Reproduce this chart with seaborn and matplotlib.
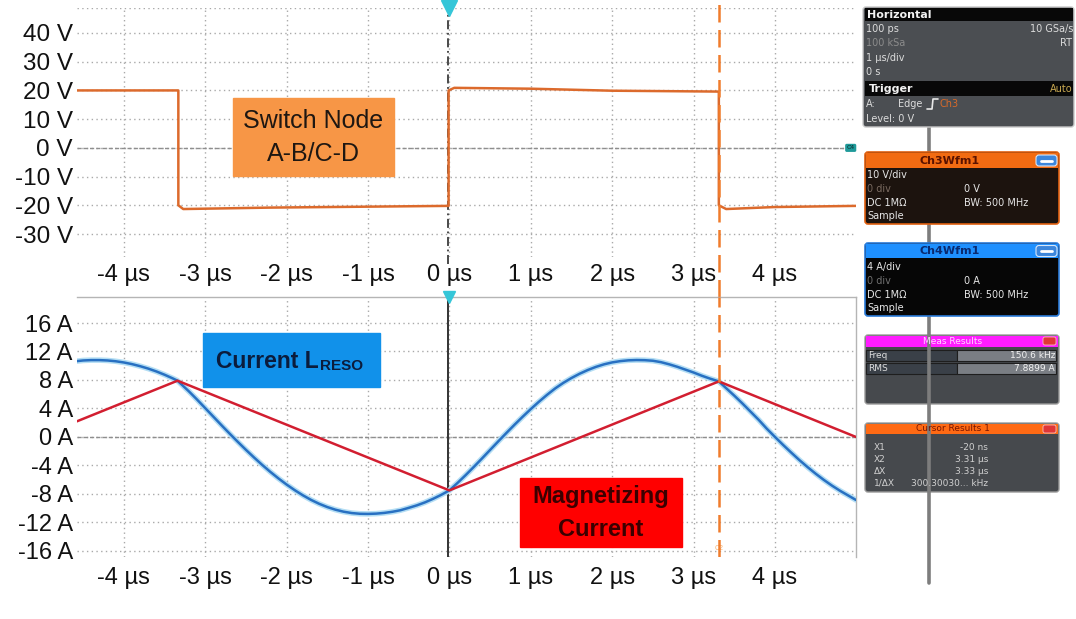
import numpy as np
import pandas as pd
import matplotlib.pyplot as plt
import seaborn as sns
from matplotlib.patches import Rectangle, FancyBboxPatch

# ---- values ----
# switch node voltage (Ch3), time in us, volts
sw_t = [-4.575, -3.33, -3.33, -3.27, -2.2, -0.01, -0.01, 0.06, 1.0, 2.0, 3.31, 3.31, 3.40, 4.0, 4.995]
sw_v = [20.0, 20.0, -20.0, -21.3, -20.8, -20.2, 20.0, 20.9, 20.6, 19.9, 19.6, -20.0, -21.3, -20.6, -20.2]

# resonant inductor current (Ch4), amps
ilr_t = [-4.575, -4.5, -4.4, -4.3, -4.2, -4.1, -4.0, -3.9, -3.8, -3.7, -3.6, -3.5, -3.4, -3.34,
         -3.2, -3.1, -3.0, -2.9, -2.8, -2.7, -2.6, -2.5, -2.4, -2.3, -2.2, -2.1, -2.0,
         -1.9, -1.8, -1.7, -1.6, -1.5, -1.4, -1.3, -1.2, -1.1, -1.0,
         -0.9, -0.8, -0.7, -0.6, -0.5, -0.4, -0.3, -0.2, -0.1, 0.0,
         0.1, 0.2, 0.3, 0.4, 0.5, 0.6, 0.7, 0.8, 0.9, 1.0,
         1.1, 1.2, 1.3, 1.4, 1.5, 1.6, 1.7, 1.8, 1.9, 2.0,
         2.1, 2.2, 2.3, 2.4, 2.5, 2.6, 2.7, 2.8, 2.9, 3.0, 3.1, 3.2, 3.31,
         3.4, 3.5, 3.6, 3.7, 3.8, 3.9, 4.0, 4.1, 4.2, 4.3, 4.4, 4.5, 4.6, 4.7, 4.8, 4.9, 4.995]
ilr_i = [10.65, 10.74, 10.79, 10.79, 10.74, 10.63, 10.46, 10.23, 9.94, 9.6, 9.2, 8.74, 8.23, 7.9,
         6.4, 5.25, 4.05, 2.85, 1.65, 0.47, -0.68, -1.8, -2.88, -3.92, -4.9, -5.82, -6.68,
         -7.47, -8.19, -8.83, -9.38, -9.84, -10.21, -10.49, -10.68, -10.78, -10.8,
         -10.76, -10.66, -10.5, -10.28, -9.95, -9.6, -9.18, -8.68, -8.12, -7.5,
         -6.45, -5.35, -4.2, -3.02, -1.82, -0.62, 0.56, 1.72, 2.84, 3.92,
         4.95, 5.92, 6.82, 7.6, 8.28, 8.88, 9.4, 9.84, 10.2, 10.47,
         10.65, 10.76, 10.8, 10.78, 10.7, 10.5, 10.2, 9.85, 9.45, 9.05, 8.6, 8.2, 7.8,
         6.85, 5.8, 4.7, 3.55, 2.4, 1.15, 0.0, -1.12, -2.2, -3.25, -4.23, -5.16, -6.03, -6.83, -7.56, -8.22, -8.85]

# magnetizing current (triangle)
im_t = [-4.575, -3.34, 0.0, 3.31, 4.995]
im_i = [2.2, 7.9, -7.5, 7.8, 0.0]

cursor_x1 = -0.02
cursor_x2 = 3.31

time_ticks = [-4, -3, -2, -1, 0, 1, 2, 3, 4]
time_labels = ['-4 µs', '-3 µs', '-2 µs', '-1 µs', '0 µs', '1 µs', '2 µs', '3 µs', '4 µs']
volt_ticks = [40, 30, 20, 10, 0, -10, -20, -30]
volt_labels = ['40 V', '30 V', '20 V', '10 V', '0 V', '-10 V', '-20 V', '-30 V']
amp_ticks = [16, 12, 8, 4, 0, -4, -8, -12, -16]
amp_labels = ['16 A', '12 A', '8 A', '4 A', '0 A', '-4 A', '-8 A', '-12 A', '-16 A']

sns.set_style("white")
plt.rcParams['font.family'] = ['Liberation Sans', 'DejaVu Sans']
REG = ['Liberation Sans', 'DejaVu Sans']
PANEL = ['DejaVu Sans']

W, H = 1076, 619
fig = plt.figure(figsize=(W / 100, H / 100), dpi=100)


def frac(x0, y0, x1, y1):
    return [x0 / W, 1 - y1 / H, (x1 - x0) / W, (y1 - y0) / H]


ax_v = fig.add_axes(frac(77, 8, 856, 257))
ax_i = fig.add_axes(frac(77, 297, 856, 557))

GRID = dict(color='#a9a9a9', linestyle=(0, (1, 2.4)), linewidth=1.0)
for ax in (ax_v, ax_i):
    ax.set_xlim(-4.575, 4.995)
    ax.set_xticks(time_ticks)
    ax.set_xticklabels(time_labels)
    ax.grid(True, **GRID)
    ax.tick_params(length=0, labelcolor='#111111')
    for s in ax.spines.values():
        s.set_visible(False)

ax_v.set_ylim(-38, 48.7)
ax_v.set_yticks(volt_ticks)
ax_v.set_yticklabels(volt_labels)
ax_v.axhline(48.7, zorder=0, **GRID)
ax_v.tick_params(axis='y', pad=3, labelsize=17.5)
ax_v.tick_params(axis='x', pad=5, labelsize=17)

ax_i.set_ylim(-16.85, 19.65)
ax_i.set_yticks(amp_ticks)
ax_i.set_yticklabels(amp_labels)
ax_i.tick_params(axis='y', pad=3, labelsize=17)
ax_i.tick_params(axis='x', pad=7, labelsize=17)
for sp in ('top', 'right'):
    ax_i.spines[sp].set_visible(True)
    ax_i.spines[sp].set_color('#b5b5b5')
    ax_i.spines[sp].set_linewidth(1.0)

# centre (0 V / 0 A) lines
for ax in (ax_v, ax_i):
    ax.axhline(0, color='#8e8e8e', linestyle=(0, (3, 1.5)), linewidth=1.0, zorder=1)

# traces
sw = pd.DataFrame({'t': sw_t, 'v': sw_v})
sns.lineplot(data=sw, x='t', y='v', ax=ax_v, color='#dc6a2c', linewidth=1.8,
             estimator=None, sort=False, zorder=3)

ilr = pd.DataFrame({'t': ilr_t, 'i': ilr_i})
sns.lineplot(data=ilr, x='t', y='i', ax=ax_i, color='#b4def4', linewidth=4.0,
             estimator=None, sort=False, zorder=3)
sns.lineplot(data=ilr, x='t', y='i', ax=ax_i, color='#2870c2', linewidth=1.8,
             estimator=None, sort=False, zorder=4)

im = pd.DataFrame({'t': im_t, 'i': im_i})
sns.lineplot(data=im, x='t', y='i', ax=ax_i, color='#d21e30', linewidth=1.8,
             estimator=None, sort=False, zorder=5)

for ax in (ax_v, ax_i):
    ax.set_xlabel('')
    ax.set_ylabel('')

# cursor / trigger lines
ax_v.axvline(cursor_x1, ymin=-0.03, ymax=1.0, color='#3c3c3c',
             linestyle=(0, (5, 2, 1, 2)), linewidth=1.3, zorder=2, clip_on=False)
ax_i.axvline(cursor_x1, color='#333333', linewidth=1.4, zorder=2)
ax_v.axvline(cursor_x2, ymin=-0.16, ymax=1.032, color='#f07c2c',
             linestyle=(0, (7, 3)), linewidth=1.8, zorder=6, clip_on=False)
ax_i.axvline(cursor_x2, color='#f07c2c', linestyle=(0, (7, 3)), linewidth=1.8, zorder=6)
ax_i.text(cursor_x2, -15.6, 'C2', color='#f5b070', fontsize=5, ha='center', va='center')

# trigger position markers
ax_v.plot([0], [48.7], marker='v', markersize=11, color='#35c6d8', clip_on=False, zorder=7)
ax_i.plot([0], [19.65], marker='v', markersize=9, color='#35c6d8', clip_on=False, zorder=7)
ax_v.text(4.93, 0, 'C4', fontsize=4.5, color='#0c2a2a', ha='center', va='center',
          bbox=dict(boxstyle='round,pad=0.25', fc='#1f9a9a', ec='none'), zorder=8)

# ---- overlay in pixel coordinates for the labels and the side panel ----
ov = fig.add_axes([0, 0, 1, 1], zorder=10)
ov.set_xlim(0, W)
ov.set_ylim(H, 0)
ov.axis('off')
ov.patch.set_visible(False)

ov.add_patch(Rectangle((233, 98), 161, 78, color='#f79646', zorder=1))
ov.text(313, 121, 'Switch Node', fontsize=18, color='#1e1712', ha='center', va='center', family=REG)
ov.text(313, 154, 'A-B/C-D', fontsize=18, color='#1e1712', ha='center', va='center', family=REG)

ov.add_patch(Rectangle((203, 333), 177, 54, color='#1191ea', zorder=1))
cur_txt = ov.text(216, 368, 'Current L', fontsize=16.5, color='#0b1c3c', ha='left',
                  va='baseline', family=REG, weight='bold')

ov.add_patch(Rectangle((520, 478), 162, 69, color='#ff0000', zorder=1))
ov.text(601, 497, 'Magnetizing', fontsize=17, color='#3b0000', ha='center', va='center',
        family=REG, weight='bold')
ov.text(601, 530, 'Current', fontsize=17, color='#3b0000', ha='center', va='center',
        family=REG, weight='bold')


def box(x0, y0, x1, y1, body, edge, z=3, lw=1.0):
    ov.add_patch(FancyBboxPatch((x0, y0), x1 - x0, y1 - y0, boxstyle='round,pad=0,rounding_size=3',
                                fc=body, ec=edge, lw=lw, zorder=z))


def band(x0, y0, x1, y1, color, z=3.1):
    ov.add_patch(Rectangle((x0, y0), x1 - x0, y1 - y0, color=color, zorder=z, lw=0))


def txt(x, y, s, color='#dcdcdc', size=7, ha='left', weight='normal', z=4):
    ov.text(x, y, s, color=color, fontsize=size, ha=ha, va='center', family=PANEL,
            weight=weight, zorder=z)


def button(y):
    ov.add_patch(FancyBboxPatch((1036, y), 21, 11, boxstyle='round,pad=0,rounding_size=3',
                                fc='#3c86dc', ec='#d8e6f8', lw=0.8, zorder=4))
    ov.plot([1041, 1052], [y + 5.5, y + 5.5], color='white', lw=2, zorder=5)


def icon(y):
    ov.add_patch(FancyBboxPatch((1043, y), 13, 8, boxstyle='round,pad=0,rounding_size=2',
                                fc='#e03636', ec='#f4c0c0', lw=0.6, zorder=4))


# connector line behind the channel boxes
ov.plot([929, 929], [127, 583], color='#7d7d7d', lw=2.6, zorder=2)

# Horizontal / Trigger
box(863, 7, 1074, 127, '#4b4e52', '#c8c8c8')
band(865, 8, 1073, 21, '#080808')
txt(867, 14.5, 'Horizontal', color='#f2f2f2', size=8, weight='bold')
txt(866, 29, '100 ps')
txt(1073, 29, '10 GSa/s', ha='right')
txt(866, 43, '100 kSa', color='#8c8c8c')
txt(1072, 43, 'RT', ha='right')
txt(866, 58, '1 µs/div')
txt(866, 72, '0 s')
band(865, 81, 1073, 96, '#080808')
txt(869, 88.5, 'Trigger', color='#f2f2f2', size=8, weight='bold')
txt(1073, 88.5, 'Auto', color='#c8a850', ha='right')
txt(866, 104, 'A:')
txt(898, 104, 'Edge')
ov.plot([927, 932, 933, 938], [109, 109, 99, 99], color='#e8e8e8', lw=1.2, zorder=4)
txt(940, 104, 'Ch3', color='#d86a2a')
txt(866, 119, 'Level: 0 V')

# Ch3 settings
box(865, 152, 1059, 224, '#1c130e', '#e06010', lw=1.2)
band(866, 153, 1058, 168, '#f26b12')
txt(950, 160.5, 'Ch3Wfm1', color='#5a1200', size=8, ha='center', weight='bold')
button(155)
txt(867, 175, '10 V/div', color='#e6e6e6')
txt(867, 189, '0 div', color='#7a6a60')
txt(964, 189, '0 V', color='#e6e6e6')
txt(867, 203, 'DC 1MΩ', color='#e6e6e6')
txt(964, 203, 'BW: 500 MHz', color='#e6e6e6')
txt(867, 216, 'Sample', color='#e6e6e6')

# Ch4 settings
box(865, 243, 1059, 316, '#060606', '#2a7ad8', lw=1.2)
band(866, 244, 1058, 258, '#1e90ff')
txt(950, 251, 'Ch4Wfm1', color='#0a2a70', size=8, ha='center', weight='bold')
button(245.5)
txt(867, 267, '4 A/div', color='#e6e6e6')
txt(867, 281, '0 div', color='#707070')
txt(964, 281, '0 A', color='#e6e6e6')
txt(867, 295, 'DC 1MΩ', color='#e6e6e6')
txt(964, 295, 'BW: 500 MHz', color='#e6e6e6')
txt(867, 308, 'Sample', color='#e6e6e6')

# measurement results (line runs over these two)
box(865, 335, 1059, 404, '#46494d', '#9a9a9a', z=1)
band(866, 335.5, 1058, 347, '#ff1cff', z=1.1)
txt(953, 341, 'Meas Results', color='#ffd8ff', size=6.5, ha='center')
icon(337)
for yy, name, val in [(350, 'Freq', '150.6 kHz'), (363, 'RMS', '7.8899 A')]:
    ov.add_patch(Rectangle((866, yy), 91, 11, fc='#3a4048', ec='#1e1e1e', lw=0.8, zorder=1.2))
    ov.add_patch(Rectangle((957, yy), 99, 11, fc='#7a7e84', ec='#1e1e1e', lw=0.8, zorder=1.2))
    txt(868, yy + 5.5, name, size=6.5)
    txt(1055, yy + 5.5, val, color='#f2f2f2', size=6.5, ha='right')

box(865, 423, 1059, 492, '#46494d', '#9a9a9a', z=1)
band(866, 423.5, 1058, 434, '#ff6a14', z=1.1)
txt(953, 428.5, 'Cursor Results 1', color='#7a1500', size=6.5, ha='center')
icon(425)
for yy, name, val in [(447, 'X1', '-20 ns'), (459, 'X2', '3.31 µs'),
                      (471, 'ΔX', '3.33 µs'), (483, '1/ΔX', '300.30030... kHz')]:
    txt(874, yy, name, color='#d0d0d0', size=6.5)
    txt(988, yy, val, color='#d0d0d0', size=6.5, ha='right')

# subscript placed right after "Current L"
fig.canvas.draw()
bb = cur_txt.get_window_extent(fig.canvas.get_renderer())
ov.text(bb.x1 + 1, 370, 'RESO', fontsize=11, color='#0b1c3c', ha='left', va='baseline',
        family=REG, weight='bold')

fig.savefig('out.png', dpi=100)
